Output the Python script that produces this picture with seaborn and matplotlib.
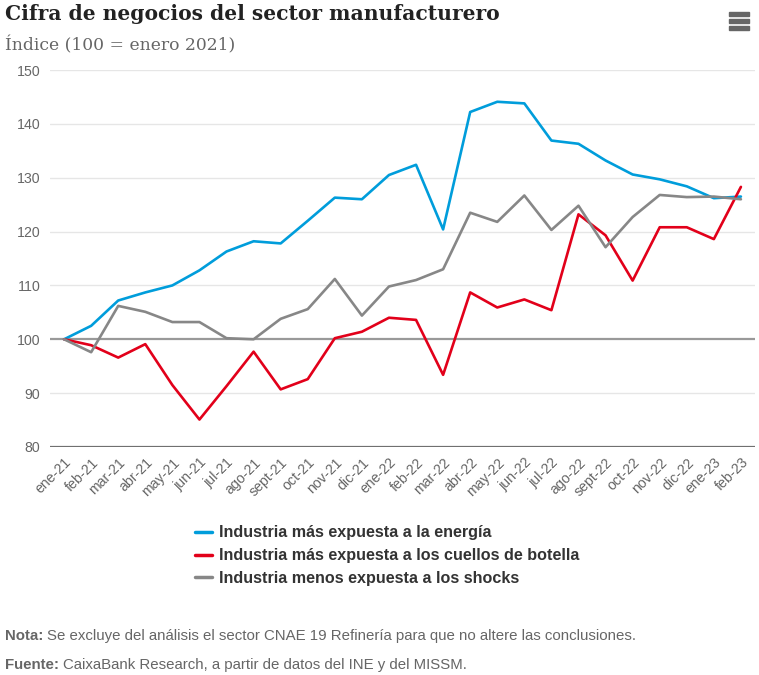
import matplotlib
matplotlib.use("Agg")
import matplotlib.pyplot as plt
import seaborn as sns
import pandas as pd
from matplotlib.lines import Line2D
from matplotlib.patches import Rectangle

months = ["ene-21", "feb-21", "mar-21", "abr-21", "may-21", "jun-21", "jul-21",
          "ago-21", "sept-21", "oct-21", "nov-21", "dic-21", "ene-22", "feb-22",
          "mar-22", "abr-22", "may-22", "jun-22", "jul-22", "ago-22", "sept-22",
          "oct-22", "nov-22", "dic-22", "ene-23", "feb-23"]

energia = [100.0, 102.5, 107.2, 108.7, 110.0, 112.8, 116.3, 118.2, 117.8, 122.0,
           126.3, 126.0, 130.5, 132.4, 120.4, 142.2, 144.1, 143.8, 136.9, 136.3,
           133.2, 130.6, 129.7, 128.4, 126.2, 126.5]
cuellos = [100.0, 98.9, 96.6, 99.1, 91.5, 85.1, 91.3, 97.7, 90.7, 92.6,
           100.2, 101.4, 104.0, 103.6, 93.4, 108.7, 105.9, 107.4, 105.4, 123.2,
           119.3, 110.9, 120.8, 120.8, 118.6, 128.3]
menos = [100.0, 97.6, 106.2, 105.1, 103.2, 103.2, 100.2, 100.0, 103.8, 105.6,
         111.2, 104.4, 109.8, 111.0, 113.0, 123.5, 121.8, 126.7, 120.3, 124.8,
         117.1, 122.7, 126.8, 126.4, 126.5, 126.0]

series_names = ["Industria más expuesta a la energía",
                "Industria más expuesta a los cuellos de botella",
                "Industria menos expuesta a los shocks"]
colors = ["#009ddb", "#e2001a", "#878787"]

title = "Cifra de negocios del sector manufacturero"
subtitle = "Índice (100 = enero 2021)"
yticks = [80, 90, 100, 110, 120, 130, 140, 150]
notes = [("Nota:", "Se excluye del análisis el sector CNAE 19 Refinería para que no altere las conclusiones."),
         ("Fuente:", "CaixaBank Research, a partir de datos del INE y del MISSM.")]

rows = []
for name, vals in zip(series_names, [energia, cuellos, menos]):
    for i, (m, v) in enumerate(zip(months, vals)):
        rows.append({"idx": i, "mes": m, "valor": v, "serie": name})
df = pd.DataFrame(rows)

sns.set_theme(style="white")
plt.rcParams["font.family"] = ["Liberation Sans", "DejaVu Sans"]

fig = plt.figure(figsize=(7.59, 6.75), dpi=100)
ax = fig.add_axes([50 / 759, 1 - 447 / 675, 705 / 759, 377 / 675])

for y in yticks:
    if y == 100:
        ax.axhline(y, color="#999999", lw=1.6, zorder=1)
    elif y == 80:
        ax.axhline(y, color="#707070", lw=1.6, zorder=1)
    else:
        ax.axhline(y, color="#e6e6e6", lw=1.0, zorder=0)

sns.lineplot(data=df, x="idx", y="valor", hue="serie", hue_order=series_names,
             palette=colors, linewidth=1.9, ax=ax, legend=False, zorder=3)

ax.set_xlim(-0.52, 25.52)
ax.set_ylim(80, 150)
ax.set_yticks(yticks)
ax.set_yticklabels([str(v) for v in yticks], color="#666666", fontsize=10.2)
ax.set_xticks(range(len(months)))
ax.set_xticklabels(months, rotation=45, ha="right", rotation_mode="anchor",
                   color="#666666", fontsize=10.2)
ax.tick_params(axis="x", length=0, pad=6)
ax.tick_params(axis="y", length=0, pad=7)
ax.set_xlabel("")
ax.set_ylabel("")
for s in ax.spines.values():
    s.set_visible(False)

fig.text(5 / 759, 1 - 14 / 675, title, family=["DejaVu Serif"],
         fontweight="bold", fontsize=14.6, color="#222222", va="center", ha="left")
fig.text(5 / 759, 1 - 45 / 675, subtitle, family=["DejaVu Serif"],
         fontsize=12.3, color="#666666", va="center", ha="left")

# menu icon
for yy in [14, 21, 28]:
    fig.patches.append(Rectangle((729 / 759, 1 - (yy + 2) / 675), 20 / 759, 4 / 675,
                                 transform=fig.transFigure, color="#666666"))

handles = [Line2D([0], [0], color=c, lw=2.5) for c in colors]
leg = fig.legend(handles, series_names, loc="upper left",
                 bbox_to_anchor=(180 / 759, 1 - 511 / 675), frameon=False,
                 handlelength=1.1, handletextpad=0.45, labelspacing=0.48,
                 prop={"family": ["Liberation Sans", "DejaVu Sans"], "weight": "bold", "size": 11.6})
for t in leg.get_texts():
    t.set_color("#333333")

fig.canvas.draw()
renderer = fig.canvas.get_renderer()
for (bold, rest), yy in zip(notes, [636, 665]):
    t = fig.text(5 / 759, 1 - yy / 675, bold, fontweight="bold", color="#666666",
                 fontsize=10.8, va="center", ha="left")
    bb = t.get_window_extent(renderer)
    fig.text((bb.x1 + 4) / 759, 1 - yy / 675, rest,
             color="#666666", fontsize=10.8, va="center", ha="left")

fig.savefig("out.png", dpi=100, facecolor="white")
